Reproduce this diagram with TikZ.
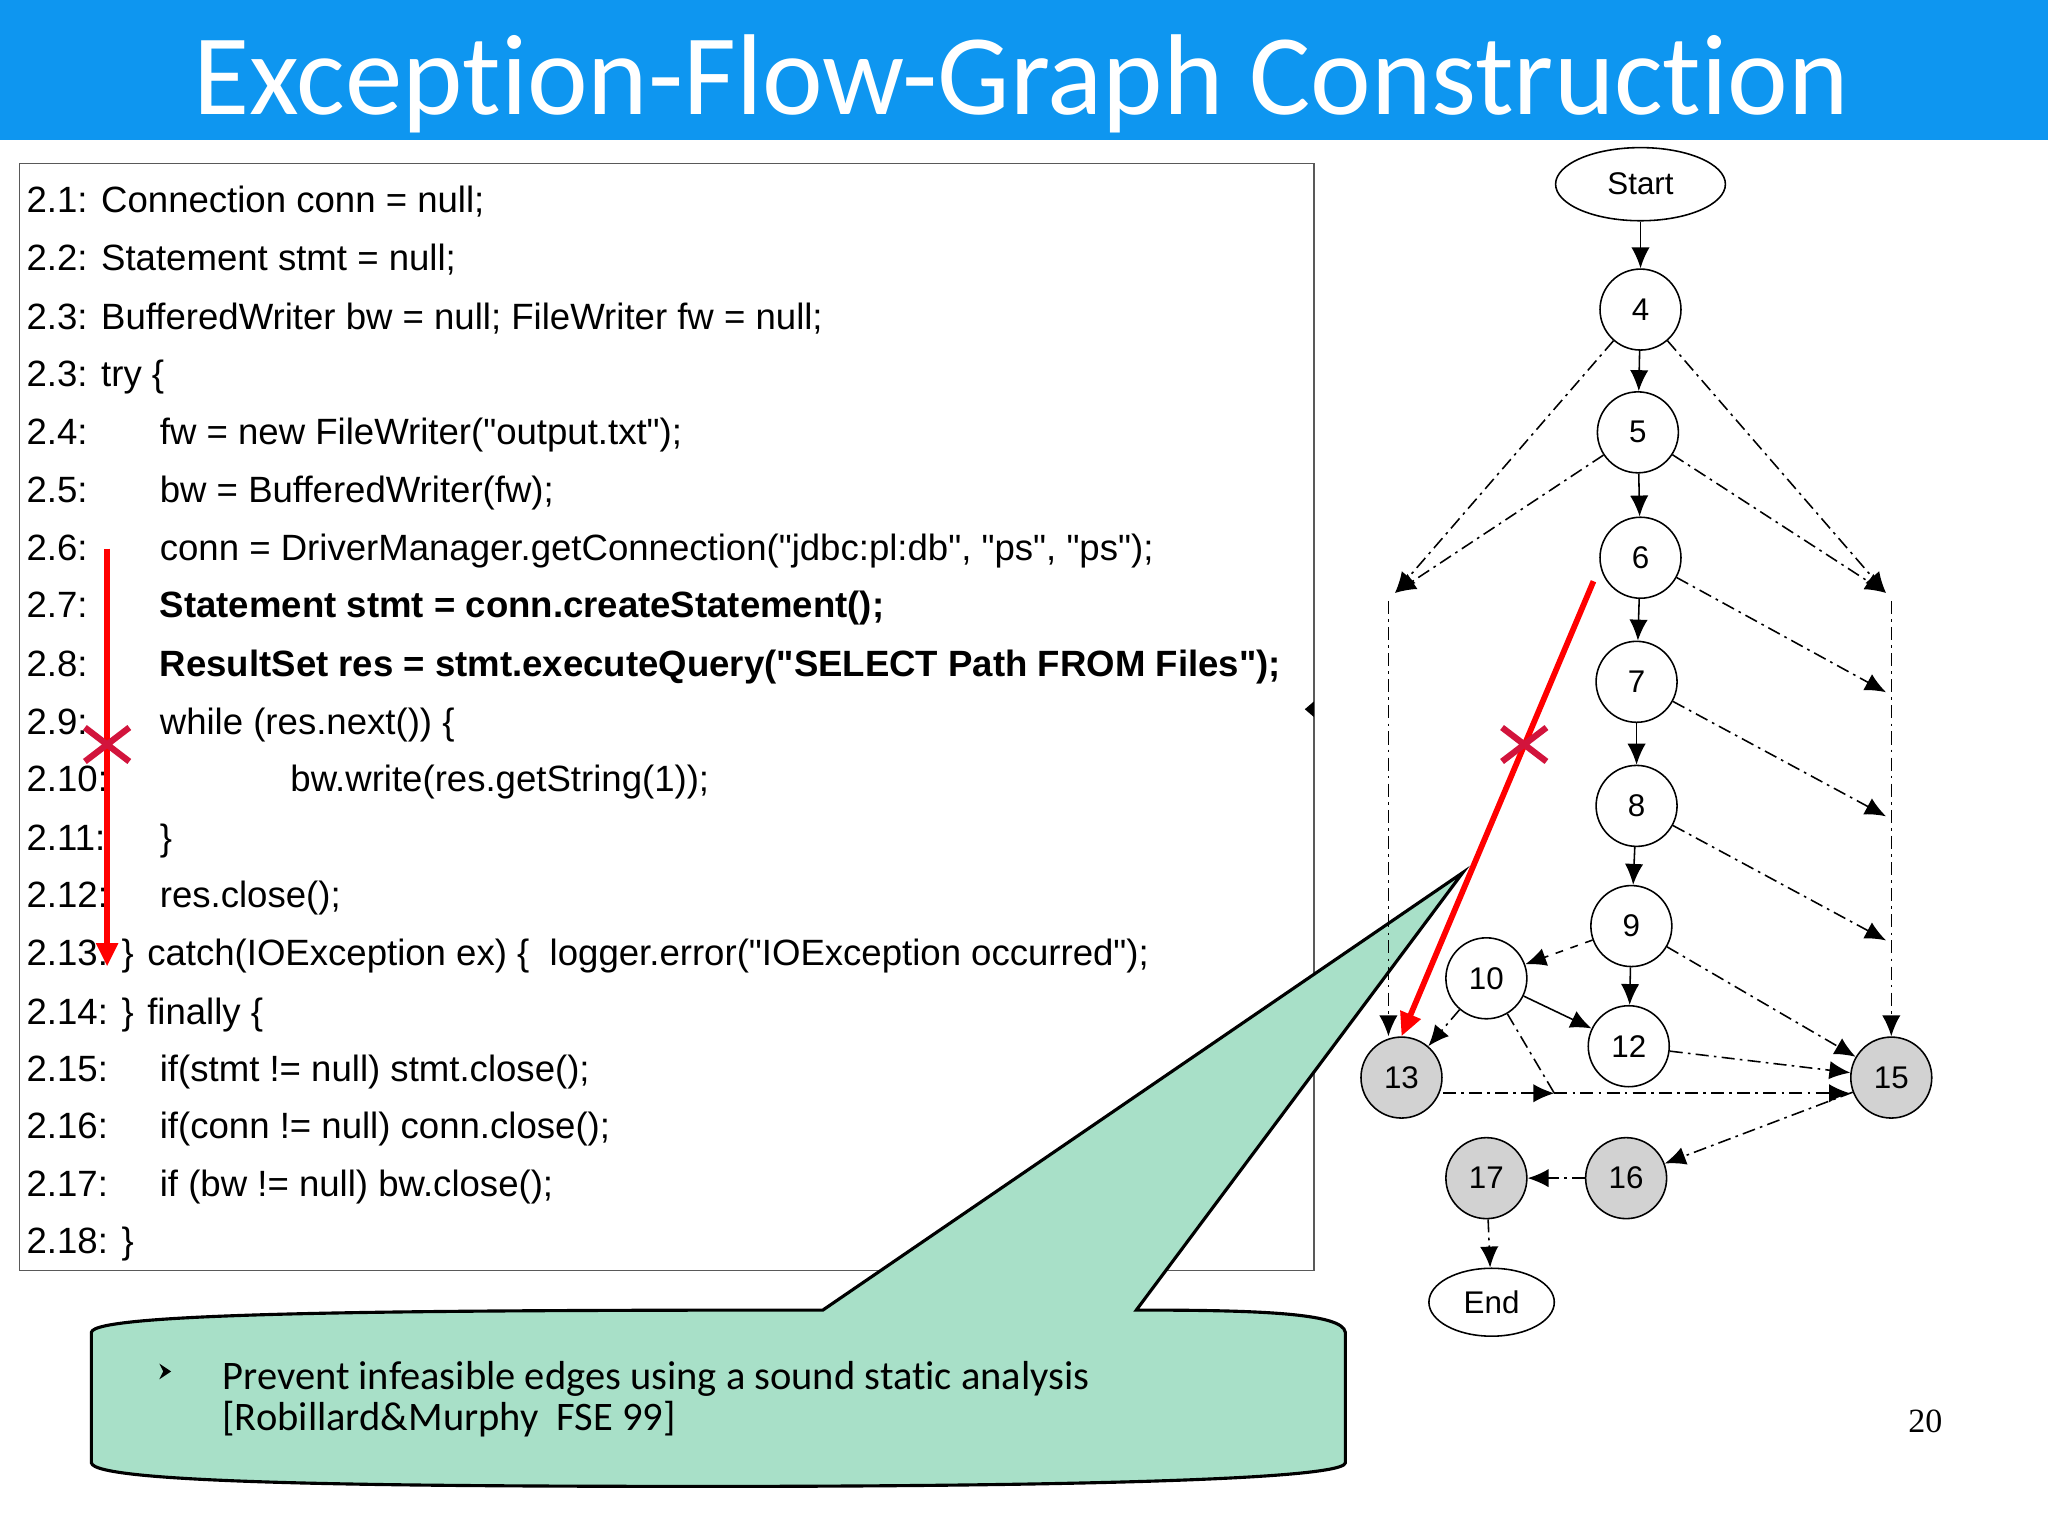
\documentclass[tikz,border=0pt]{standalone}
\usepackage{fontspec}
\setmainfont{Liberation Sans}[Ligatures=TeXOff]
\newfontfamily\calib[Ligatures={NoCommon}]{Carlito}
\newfontfamily\serifnum{Liberation Serif}
\usetikzlibrary{shapes.geometric,arrows.meta}
\definecolor{hdr}{RGB}{14,150,240}
\definecolor{callout}{RGB}{168,224,200}
\definecolor{crim}{RGB}{210,20,60}
\definecolor{gnode}{RGB}{210,210,210}
\newcommand{\qq}{"}
\tikzset{
 codeline/.style={anchor=base west,inner sep=0pt,font=\fontsize{14}{15}\selectfont},
 gn/.style={circle,draw,semithick,minimum size=31pt,inner sep=0pt,font=\fontsize{12}{14}\selectfont},
 gg/.style={gn,fill=gnode},
 ell/.style={ellipse,draw,semithick,inner sep=0pt,font=\fontsize{12}{14}\selectfont},
 sol/.style={-{Latex[length=8pt,width=7pt]},semithick},
 dd/.style={-{Latex[length=8pt,width=7pt]},semithick,dash pattern=on 5pt off 2pt on 1pt off 2pt},
 ddn/.style={semithick,dash pattern=on 5pt off 2pt on 1pt off 2pt},
 redarr/.style={red,line width=2.2pt,-{Triangle[length=9pt,width=8pt]}},
 xmk/.style={crim,line width=2.4pt},
 ctext/.style={anchor=base west,inner sep=0pt,font=\calib\fontsize{15.5}{17}\selectfont}
}
\begin{document}
\begin{tikzpicture}[x=0.5pt,y=-0.5pt]
\useasboundingbox (0,0) rectangle (1568,1175);
\fill[white] (0,0) rectangle (1568,1175);
\fill[hdr] (0,0) rectangle (1568,107);
\node[white,font=\calib\fontsize{44}{48}\selectfont] (title) at (782,64) {Exception-Flow-Graph Construction};
% code box
\draw[gray!70!black,thin] (15,125) rectangle (1006,973);
\fill (1006,537) -- (999,543) -- (1006,549) -- cycle;
\foreach \y/\t in {
 163/{2.1: Connection conn = null;},
 207/{2.2: Statement stmt = null;},
 252/{2.3: BufferedWriter bw = null; FileWriter fw = null;},
 296/{2.3: try \{},
 385/{2.5:},
 429/{2.6:},
 473/{2.7:},
 518/{2.8:},
 562/{2.9:},
 606/{2.10:},
 651/{2.11:},
 695/{2.12:},
 739/{2.13: \} catch(IOException ex) \{\ \ logger.error(\qq IOException occurred\qq);},
 784/{2.14: \} finally \{},
 828/{2.15:},
 872/{2.16:},
 916/{2.17:},
 960/{2.18: \}}}
 {\node[codeline] at (20,\y) {\t};}
\node[codeline] (l24) at (20,340) {2.4:};
\node[codeline] at (122,340) {fw = new FileWriter(\qq output.txt\qq);};
\node[codeline] at (122,385) {bw = BufferedWriter(fw);};
\node[codeline] at (122,429) {conn = DriverManager.getConnection(\qq jdbc:pl:db\qq, \qq ps\qq, \qq ps\qq);};
\node[codeline,font=\fontsize{14}{15}\selectfont\bfseries] at (122,473) {Statement stmt = conn.createStatement();};
\node[codeline,font=\fontsize{14}{15}\selectfont\bfseries] at (122,518) {ResultSet res = stmt.executeQuery(\qq SELECT Path FROM Files\qq);};
\node[codeline] at (122,562) {while (res.next()) \{};
\node[codeline] at (222,606) {bw.write(res.getString(1));};
\node[codeline] at (122,651) {\}};
\node[codeline] at (122,695) {res.close();};
\node[codeline] at (122,828) {if(stmt != null) stmt.close();};
\node[codeline] at (122,872) {if(conn != null) conn.close();};
\node[codeline] at (122,916) {if (bw != null) bw.close();};
% red arrow left
\coordinate (ra) at (82,420);
\coordinate (rb) at (82,740);
\draw[redarr] (ra) -- (rb);
\coordinate (x1) at (82,570);
\draw[xmk] ([shift={(-17,-13)}]x1) -- ([shift={(17,13)}]x1) ([shift={(-17,13)}]x1) -- ([shift={(17,-13)}]x1);
% callout
\draw[fill=callout,line width=1.2pt]
 (70,1020) .. controls (72,1005) and (300,1003) .. (630,1003) -- (1120,668) -- (870,1003)
 .. controls (960,1003) and (1028,1005) .. (1030,1020) -- (1030,1120)
 .. controls (1028,1136) and (700,1138) .. (550,1138) .. controls (300,1138) and (72,1136) .. (70,1120) -- cycle;
\fill (122,1044) -- (131,1050) -- (122,1056) -- (125,1050) -- cycle;
\node[ctext] (ct1) at (170,1064) {Prevent infeasible edges using a sound static analysis};
\node[ctext] (ct2) at (170,1095) {[Robillard\&Murphy\ \ FSE 99]};
\node[font=\serifnum\fontsize{13}{14}\selectfont] (pg) at (1474,1088) {20};
% graph
\node[ell,minimum width=65pt,minimum height=28pt] (S) at (1256,141) {Start};
\node[gn] (n4) at (1256,237) {4};
\node[gn] (n5) at (1254,331) {5};
\node[gn] (n6) at (1256,427) {6};
\node[gn] (n7) at (1253,522) {7};
\node[gn] (n8) at (1253,617) {8};
\node[gn] (n9) at (1249,709) {9};
\node[gn] (n10) at (1138,749) {10};
\node[gn] (n12) at (1247,801) {12};
\node[gg] (n13) at (1073,825) {13};
\node[gg] (n15) at (1448,825) {15};
\node[gg] (n16) at (1245,902) {16};
\node[gg] (n17) at (1138,902) {17};
\node[ell,minimum width=48pt,minimum height=26pt] (E) at (1142,997) {End};
\draw[sol] (S) -- (n4);
\draw[sol] (n4) -- (n5);
\draw[sol] (n5) -- (n6);
\draw[sol] (n6) -- (n7);
\draw[sol] (n7) -- (n8);
\draw[sol] (n8) -- (n9);
\draw[sol] (n9) -- (n12);
\draw[-{Latex[length=8pt,width=7pt]},semithick,dashed] (n9) -- (n10);
\draw[sol] (n10) -- (n12);
\coordinate (lc) at (1068,454);
\coordinate (lv) at (1063,460);
\coordinate (rc) at (1444,454);
\coordinate (rv) at (1448,460);
\coordinate (r6) at (1444,530);
\coordinate (r7) at (1444,625);
\coordinate (r8) at (1444,720);
\coordinate (mid) at (1190,837);
\draw[dd] (n4) -- (lc);
\draw[dd] (n5) -- (lc);
\draw[dd] (lv) -- (lv |- n13.north);
\draw[dd] (n4) -- (rc);
\draw[dd] (n5) -- (rc);
\draw[dd] (n6) -- (r6);
\draw[dd] (n7) -- (r7);
\draw[dd] (n8) -- (r8);
\draw[dd] (rv) -- (n15.north);
\draw[dd] (n9) -- (n15);
\draw[dd] (n12) -- (n15);
\draw[dd] (n13.east |- 0,837) -- (mid);
\draw[dd] (mid) -- (n15.west |- 0,837);
\draw[dd] (n10) -- (n13);
\draw[ddn] (n10) -- (mid);
\draw[dd] (n15) -- (n16);
\draw[dd] (n16) -- (n17);
\draw[dd] (n17) -- (E);
% red arrow right
\coordinate (rr1) at (1220,445);
\draw[redarr] (rr1) -- (n13.north);
\coordinate (x2) at (1167,570);
\draw[xmk] ([shift={(-17,-13)}]x2) -- ([shift={(17,13)}]x2) ([shift={(-17,13)}]x2) -- ([shift={(17,-13)}]x2);
\end{tikzpicture}
\end{document}
